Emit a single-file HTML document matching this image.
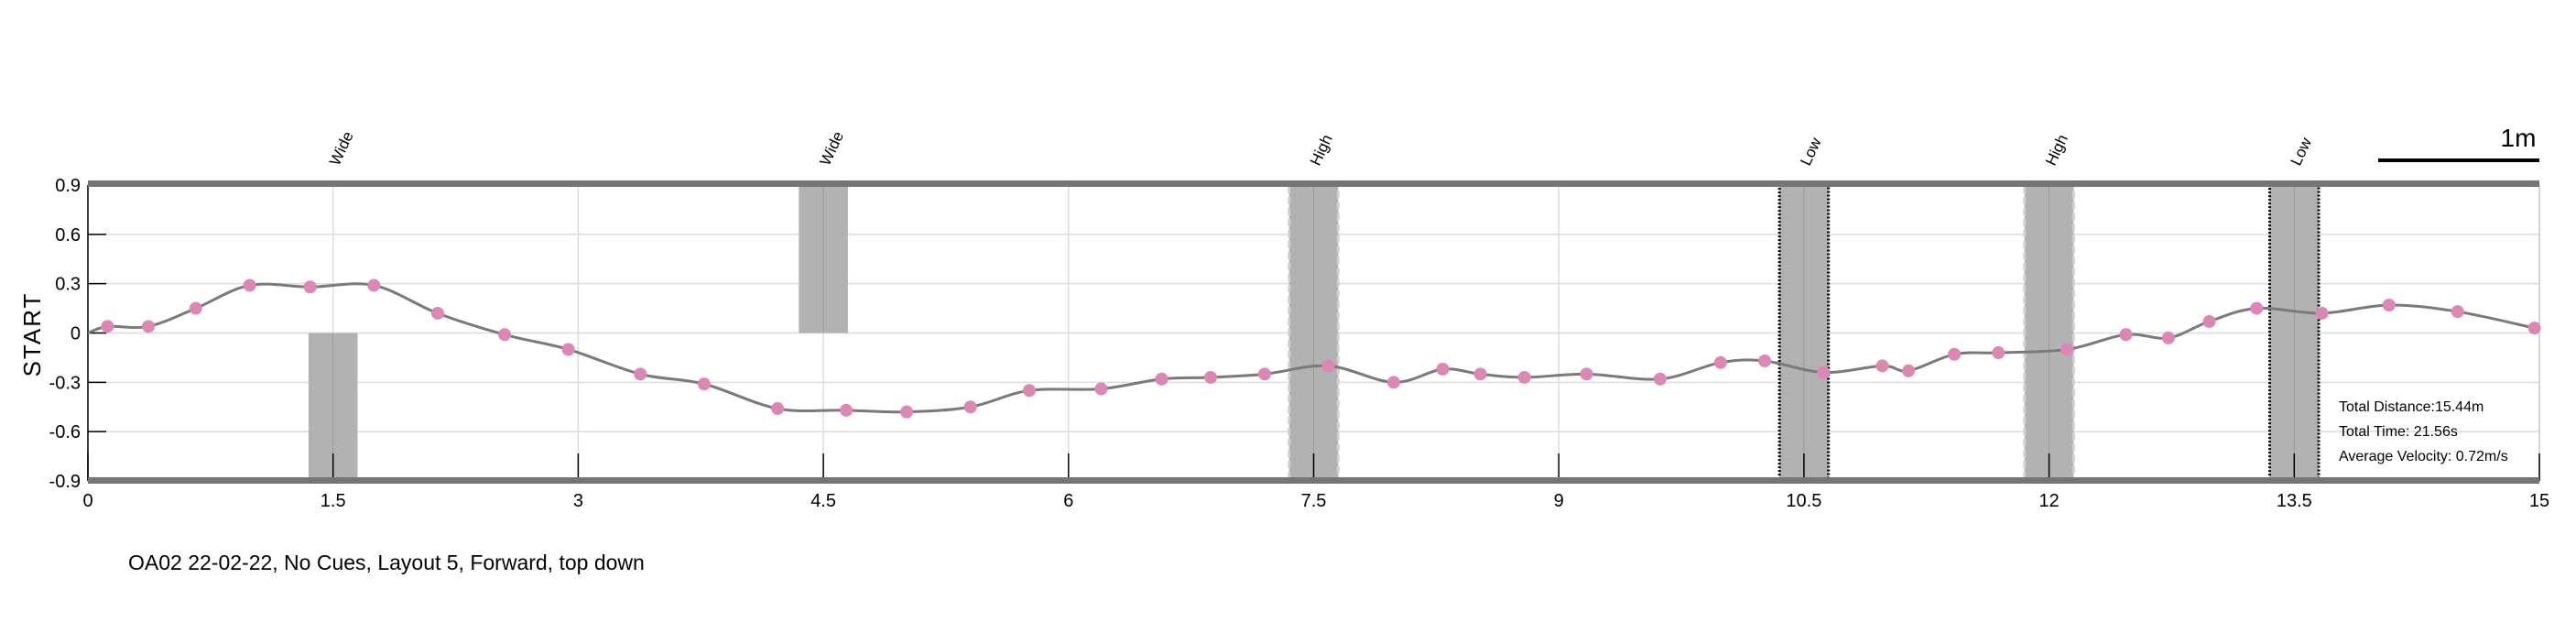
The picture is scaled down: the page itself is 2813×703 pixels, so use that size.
<!DOCTYPE html>
<html><head><meta charset="utf-8"><style>
html,body{margin:0;padding:0;background:#fff;}
svg{display:block;font-family:"Liberation Sans",sans-serif;}
</style></head><body>
<svg id="chart" width="2813" height="703" viewBox="0 0 2813 703"></svg>
<script>
const xTicks=[0,1.5,3,4.5,6,7.5,9,10.5,12,13.5,15];
const yTicks=[0.9,0.6,0.3,0,-0.3,-0.6,-0.9];
const ptX=[0.12,0.37,0.66,0.99,1.36,1.75,2.14,2.55,2.94,3.38,3.77,4.22,4.64,5.01,5.40,5.76,6.20,6.57,6.87,7.20,7.59,7.99,8.29,8.52,8.79,9.17,9.62,9.99,10.26,10.62,10.98,11.14,11.42,11.69,12.11,12.47,12.73,12.98,13.27,13.67,14.08,14.50,14.97];
const ptY=[0.04,0.04,0.15,0.29,0.28,0.29,0.12,-0.01,-0.10,-0.25,-0.31,-0.46,-0.47,-0.48,-0.45,-0.35,-0.34,-0.28,-0.27,-0.25,-0.20,-0.30,-0.22,-0.25,-0.27,-0.25,-0.28,-0.18,-0.17,-0.24,-0.20,-0.23,-0.13,-0.12,-0.10,-0.01,-0.03,0.07,0.15,0.12,0.17,0.13,0.03];
const obsLabels=["Wide","Wide","High","Low","High","Low"];
const obsCenter=[1.5,4.5,7.5,10.5,12,13.5];
const obsTop=[0,0.9,0.9,0.9,0.9,0.9];
const obsBottom=[-0.9,0,-0.9,-0.9,-0.9,-0.9];
const obsStyle=["plain","plain","dashed","dotted","dashed","dotted"];
const obsWidth=0.3;

const L=96,R=2773,T=202,B=525;
const sx=v=>L+(v-0)/15*(R-L);
const sy=v=>T+(0.9-v)/1.8*(B-T);
const svg=document.getElementById('chart');
const NS='http://www.w3.org/2000/svg';
function mk(tag,attrs,parent){const e=document.createElementNS(NS,tag);for(const k in attrs)e.setAttribute(k,attrs[k]);(parent||svg).appendChild(e);return e;}

// grid
yTicks.forEach(v=>{const g=mk('line',{x1:L,x2:R,y1:sy(v),y2:sy(v),stroke:'#dcdcdc','stroke-width':1.5});

});
xTicks.forEach(v=>{const g=mk('line',{x1:sx(v),x2:sx(v),y1:T,y2:B,stroke:'#dcdcdc','stroke-width':1.5});

});
// right border
mk('line',{x1:R,x2:R,y1:T,y2:B,stroke:'#ccc','stroke-width':1.5});

// obstacles
obsCenter.forEach((c,i)=>{
 const x0=sx(c-obsWidth/2),x1=sx(c+obsWidth/2);
 const r=mk('rect',{x:x0,y:sy(obsTop[i]),width:x1-x0,height:sy(obsBottom[i])-sy(obsTop[i]),fill:'#b2b2b2'});
 if(obsStyle[i]==='dotted'){r.setAttribute('stroke','#000');r.setAttribute('stroke-width',3);r.setAttribute('stroke-dasharray','2 2');}
 if(obsStyle[i]==='dashed'){r.setAttribute('stroke','#d0d0d0');r.setAttribute('stroke-width',3);r.setAttribute('stroke-dasharray','8 4');}
 
 
 const gl=mk('line',{x1:sx(c),x2:sx(c),y1:sy(obsTop[i]),y2:sy(obsBottom[i]),stroke:'#999','stroke-width':1});
 const t=mk('text',{x:0,y:0,'font-size':17,transform:`translate(${sx(c)+6},${T-20}) rotate(-65)`,'text-anchor':'start'});
 t.textContent=obsLabels[i];
 
 
});

// ticks
yTicks.forEach(v=>{mk('line',{x1:L,x2:L+20,y1:sy(v),y2:sy(v),stroke:'#000','stroke-width':1.5});
 const t=mk('text',{x:L-8,y:sy(v)+7,'font-size':20,'text-anchor':'end'});t.textContent=String(v);
 
 });
xTicks.forEach(v=>{mk('line',{x1:sx(v),x2:sx(v),y1:B-30,y2:B,stroke:'#000','stroke-width':1.5});
 const t=mk('text',{x:sx(v),y:B+28,'font-size':20,'text-anchor':'middle'});t.textContent=String(v);
 
 });
mk('line',{x1:L,x2:L,y1:T,y2:B,stroke:'#000','stroke-width':1.5});

// walls
const w1=mk('rect',{x:L,y:T-5,width:R-L,height:7,fill:'#757575'});


const w2=mk('rect',{x:L,y:B-4,width:R-L,height:7,fill:'#757575'});



// path (catmull-rom)
const px=[sx(0)].concat(ptX.map(sx)), py=[sy(0)].concat(ptY.map(sy));
let d=`M${px[0]},${py[0]}`;
for(let i=0;i<px.length-1;i++){
 const i0=Math.max(0,i-1),i3=Math.min(px.length-1,i+2);
 const c1x=px[i]+(px[i+1]-px[i0])/6,c1y=py[i]+(py[i+1]-py[i0])/6;
 const c2x=px[i+1]-(px[i3]-px[i])/6,c2y=py[i+1]-(py[i3]-py[i])/6;
 d+=` C${c1x},${c1y} ${c2x},${c2y} ${px[i+1]},${py[i+1]}`;
}
const p=mk('path',{d:d,fill:'none',stroke:'#7a7a7a','stroke-width':3});


ptX.forEach((x,i)=>{const c=mk('circle',{cx:sx(x),cy:sy(ptY[i]),r:7,fill:'#dd88b4'});
 
 });
</script>
<svg style="position:absolute;left:0;top:0" width="2813" height="703">
<text x="44" y="365" font-size="26" text-anchor="middle" transform="rotate(-90 44 365)" letter-spacing="2">START</text>
<line x1="2597" y1="175" x2="2773" y2="175" stroke="#000" stroke-width="4"/>
<text x="2750" y="160" font-size="28" text-anchor="middle">1m</text>
<text x="2554" y="449" font-size="16">Total Distance:15.44m</text>
<text x="2554" y="476" font-size="16">Total Time: 21.56s</text>
<text x="2554" y="503" font-size="16">Average Velocity: 0.72m/s</text>
<text x="140" y="622" font-size="23">OA02 22-02-22, No Cues, Layout 5, Forward, top down</text>
</svg>
</body></html>
